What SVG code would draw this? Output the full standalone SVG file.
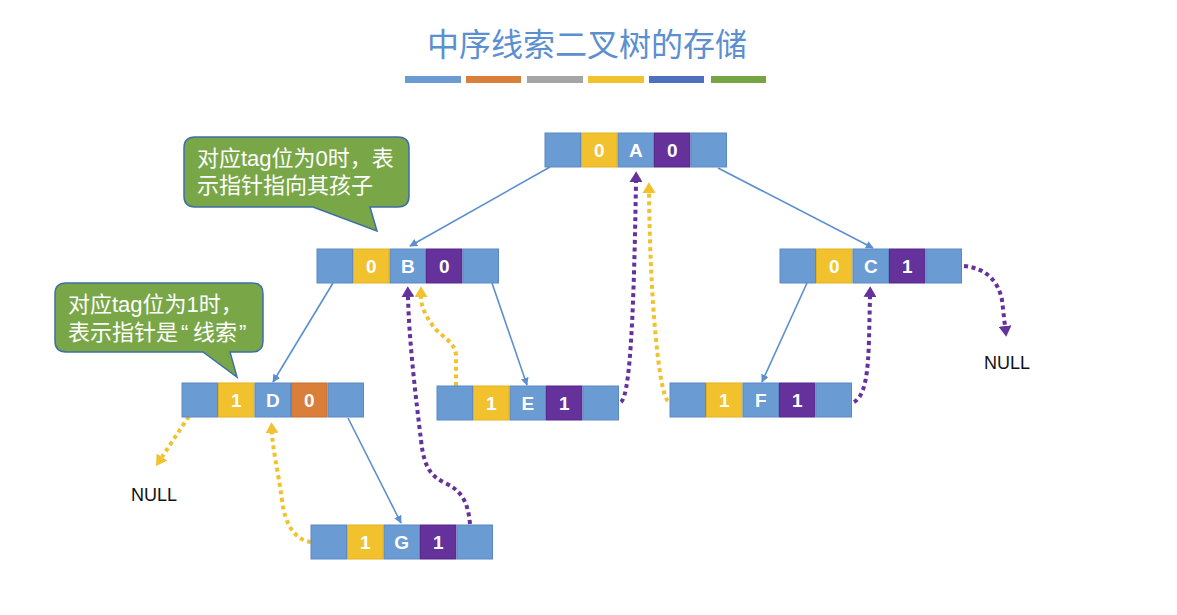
<svg xmlns="http://www.w3.org/2000/svg" width="1177" height="615" viewBox="0 0 1177 615">
<style>
.b{fill:#6A9BD3;stroke:#5A8AC6;stroke-width:1}
.y{fill:#F2C12E;stroke:#E5B21F;stroke-width:1}
.p{fill:#65319A;stroke:#57288A;stroke-width:1}
.o{fill:#D97F3A;stroke:#C96E2A;stroke-width:1}
.ct{fill:#fff;font-family:"Liberation Sans",Arial,sans-serif;font-weight:bold;font-size:19px;text-anchor:middle}
.edge{fill:none;stroke:#5B8FD0;stroke-width:1.6}
.dp{fill:none;stroke:#65319A;stroke-width:4;stroke-dasharray:4 3.6}
.dy{fill:none;stroke:#F2C12E;stroke-width:4;stroke-dasharray:4 3.6}
.call{fill:#79A748;stroke:#3F6FA6;stroke-width:1.5}
.cw{fill:#fff;font-family:"Liberation Sans","Noto Sans CJK SC",sans-serif;font-size:22px}
.null{fill:#111;font-family:"Liberation Sans",Arial,sans-serif;font-size:18px}
</style>
<defs>
<marker id="ab" viewBox="0 0 10 10" refX="9" refY="5" markerWidth="8" markerHeight="8" markerUnits="userSpaceOnUse" orient="auto"><path d="M0,0 L10,5 L0,10 z" fill="#5B8FD0"/></marker>
<marker id="ap" viewBox="0 0 10 12" refX="0" refY="6" markerWidth="11" markerHeight="13" markerUnits="userSpaceOnUse" orient="auto"><path d="M0,0 L10,6 L0,12 z" fill="#65319A"/></marker>
<marker id="ay" viewBox="0 0 10 12" refX="0" refY="6" markerWidth="11" markerHeight="13" markerUnits="userSpaceOnUse" orient="auto"><path d="M0,0 L10,6 L0,12 z" fill="#F2C12E"/></marker>
</defs>

<g id="title">
<text x="587" y="56" text-anchor="middle" font-family="'Noto Sans CJK SC',sans-serif" font-size="32" fill="#5B8FD0">中序线索二叉树的存储</text>
<rect x="405" y="76" width="56" height="7" fill="#6A9BD3"/>
<rect x="466" y="76" width="55" height="7" fill="#D97F3A"/>
<rect x="527" y="76" width="56" height="7" fill="#A5A5A5"/>
<rect x="588" y="76" width="56" height="7" fill="#F2C12E"/>
<rect x="649" y="76" width="55" height="7" fill="#4F6FBF"/>
<rect x="711" y="76" width="55" height="7" fill="#76A544"/>
</g>

<g id="connectors">
<path class="edge" d="M550,167 L410,246" marker-end="url(#ab)"/>
<path class="edge" d="M718,168 L873,248" marker-end="url(#ab)"/>
<path class="edge" d="M333,283 L273,382" marker-end="url(#ab)"/>
<path class="edge" d="M492,283 L527,385" marker-end="url(#ab)"/>
<path class="edge" d="M807,283 L762,382" marker-end="url(#ab)"/>
<path class="edge" d="M348,418 L401,523" marker-end="url(#ab)"/>

<path class="dp" d="M621,402 C631,394 634,300 636,182" marker-end="url(#ap)"/>
<path class="dy" d="M668,401 C659,394 650,300 649,193" marker-end="url(#ay)"/>
<path class="dy" d="M456,386 L456,356 C456,342 440,336 433,326 C425,315 421,306 421,297" marker-end="url(#ay)"/>
<path class="dp" d="M470,524 C468,500 460,490 445,483 C431,476 424,468 421,440 C416,400 409,340 408,297" marker-end="url(#ap)"/>
<path class="dy" d="M311,542 C295,540 285,525 282,500 C278,470 273,452 272,433" marker-end="url(#ay)"/>
<path class="dy" d="M193,410 L162,457" marker-end="url(#ay)"/>
<path class="dp" d="M854,402 C866,395 868,370 869,340 L870,297" marker-end="url(#ap)"/>
<path class="dp" d="M964,266 C985,268 998,280 1002,300 L1005,326" marker-end="url(#ap)"/>
</g>

<g id="nodeA" transform="translate(545,133)">
<rect class="b" x="0" y="0" width="35.5" height="34"/><rect class="y" x="36.5" y="0" width="35.5" height="34"/><rect class="b" x="73" y="0" width="35.5" height="34"/><rect class="p" x="109.5" y="0" width="35.5" height="34"/><rect class="b" x="146" y="0" width="35.5" height="34"/>
<text class="ct" x="54.25" y="24">0</text><text class="ct" x="90.75" y="24">A</text><text class="ct" x="127.25" y="24">0</text>
</g>
<g id="nodeB" transform="translate(317,249)">
<rect class="b" x="0" y="0" width="35.5" height="34"/><rect class="y" x="36.5" y="0" width="35.5" height="34"/><rect class="b" x="73" y="0" width="35.5" height="34"/><rect class="p" x="109.5" y="0" width="35.5" height="34"/><rect class="b" x="146" y="0" width="35.5" height="34"/>
<text class="ct" x="54.25" y="24">0</text><text class="ct" x="90.75" y="24">B</text><text class="ct" x="127.25" y="24">0</text>
</g>
<g id="nodeC" transform="translate(780,249)">
<rect class="b" x="0" y="0" width="35.5" height="34"/><rect class="y" x="36.5" y="0" width="35.5" height="34"/><rect class="b" x="73" y="0" width="35.5" height="34"/><rect class="p" x="109.5" y="0" width="35.5" height="34"/><rect class="b" x="146" y="0" width="35.5" height="34"/>
<text class="ct" x="54.25" y="24">0</text><text class="ct" x="90.75" y="24">C</text><text class="ct" x="127.25" y="24">1</text>
</g>
<g id="nodeD" transform="translate(182,383)">
<rect class="b" x="0" y="0" width="35.5" height="34"/><rect class="y" x="36.5" y="0" width="35.5" height="34"/><rect class="b" x="73" y="0" width="35.5" height="34"/><rect class="o" x="109.5" y="0" width="35.5" height="34"/><rect class="b" x="146" y="0" width="35.5" height="34"/>
<text class="ct" x="54.25" y="24">1</text><text class="ct" x="90.75" y="24">D</text><text class="ct" x="127.25" y="24">0</text>
</g>
<g id="nodeE" transform="translate(437,386)">
<rect class="b" x="0" y="0" width="35.5" height="34"/><rect class="y" x="36.5" y="0" width="35.5" height="34"/><rect class="b" x="73" y="0" width="35.5" height="34"/><rect class="p" x="109.5" y="0" width="35.5" height="34"/><rect class="b" x="146" y="0" width="35.5" height="34"/>
<text class="ct" x="54.25" y="24">1</text><text class="ct" x="90.75" y="24">E</text><text class="ct" x="127.25" y="24">1</text>
</g>
<g id="nodeF" transform="translate(670,383)">
<rect class="b" x="0" y="0" width="35.5" height="34"/><rect class="y" x="36.5" y="0" width="35.5" height="34"/><rect class="b" x="73" y="0" width="35.5" height="34"/><rect class="p" x="109.5" y="0" width="35.5" height="34"/><rect class="b" x="146" y="0" width="35.5" height="34"/>
<text class="ct" x="54.25" y="24">1</text><text class="ct" x="90.75" y="24">F</text><text class="ct" x="127.25" y="24">1</text>
</g>
<g id="nodeG" transform="translate(311,525)">
<rect class="b" x="0" y="0" width="35.5" height="34"/><rect class="y" x="36.5" y="0" width="35.5" height="34"/><rect class="b" x="73" y="0" width="35.5" height="34"/><rect class="p" x="109.5" y="0" width="35.5" height="34"/><rect class="b" x="146" y="0" width="35.5" height="34"/>
<text class="ct" x="54.25" y="24">1</text><text class="ct" x="90.75" y="24">G</text><text class="ct" x="127.25" y="24">1</text>
</g>

<g id="null1"><text class="null" x="131" y="501">NULL</text></g>
<g id="null2"><text class="null" x="984" y="369">NULL</text></g>

<g id="callout1">
<path class="call" d="M195,137 H398 Q409,137 409,148 V196 Q409,207 398,207 H370 L377,231 L313,207 H195 Q184,207 184,196 V148 Q184,137 195,137 Z"/>
<text class="cw" x="197" y="166">对应tag位为0时，表</text>
<text class="cw" x="197" y="193">示指针指向其孩子</text>
</g>
<g id="callout2">
<path class="call" d="M66,283 H252 Q263,283 263,294 V341 Q263,352 252,352 H230 L237,377 L203,352 H66 Q55,352 55,341 V294 Q55,283 66,283 Z"/>
<text class="cw" x="68" y="312">对应tag位为1时，</text>
<text class="cw" y="340" font-family="'Noto Sans CJK SC',sans-serif"><tspan x="68">表示指针是</tspan><tspan x="181">“</tspan><tspan x="193">线索</tspan><tspan x="239">”</tspan></text>
</g>
</svg>
